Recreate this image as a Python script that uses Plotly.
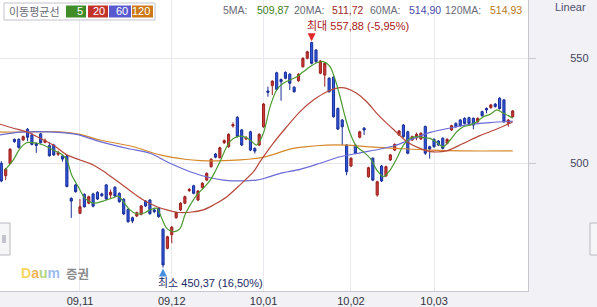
import plotly.graph_objects as go

# ---------------- data ----------------
opens = [500, 494.1, 500, 511.4, 511.4, 511.1, 516.2, 513.5, 509.5, 514,
         510, 508.4, 508.7, 504.3, 503.5, 503.5, 483.3, 489.7, 476.2, 485.2,
         481, 485.4, 486.2, 485.4, 489.7, 484.9, 488.6, 485.7, 482.9, 478,
         474.1, 474.9, 475.7, 482, 482.5, 477.8, 478.6, 468.6, 459.5, 466,
         474.1, 477.8, 481, 487, 489.3, 482.5, 488.4, 492, 498.4, 504.4,
         502.7, 509.8, 507.9, 517.8, 521.9, 515.9, 511.6, 515, 507.1, 508.7,
         517.4, 534.4, 537, 543.1, 539.9, 543.3, 542.4, 536.2, 539.3, 546,
         550, 557.5, 553.9, 542.9, 542, 540.5, 541, 526.1, 520.6, 508.7,
         498.7, 508.7, 512.4, 516.7, 493.6, 502.4, 484.9, 498.7, 494, 501.6,
         506.3, 513.5, 518.2, 515, 511.1, 512.2, 511.6, 517.5, 507.9, 511.4,
         510.6, 511.9, 509.5, 515.9, 519, 520.6, 521.4, 521.7, 521.4, 519.8,
         524.6, 526.1, 526.5, 528.2, 531, 530.2, 519, 522.2]
closes = [491.6, 497.2, 506.7, 510.3, 507.6, 512.7, 512.4, 509, 508.5, 509.8,
          511, 503.6, 504, 505.2, 502, 489, 482, 486.5, 479.3, 479.3,
          484.1, 479.6, 483, 484.6, 483, 486.2, 484.4, 481.7, 475.9, 472.2,
          472.5, 476.5, 479.7, 479.7, 476, 477, 474.6, 451.6, 465, 469.6,
          476.5, 481, 484.1, 487.5, 485.7, 486.8, 490.5, 495.2, 501.9, 502.9,
          507.4, 510.8, 513.8, 518.4, 512.7, 508.7, 512.2, 506.3, 505.8, 513.8,
          528.2, 533.8, 539.1, 535.2, 538.9, 540.5, 538.1, 534.1, 542.4, 550,
          553.1, 547.6, 548.4, 548.7, 547.6, 534.1, 522.2, 516.3, 517.4, 496,
          502.4, 504.8, 515, 515.9, 497.9, 492, 491.2, 491.6, 498.4, 504,
          509, 515.4, 512.7, 504.8, 512.7, 513.8, 514.3, 504.8, 506.8, 507.9,
          508.7, 507.1, 511.4, 517.9, 517.4, 517.9, 519, 519, 518.2, 521.4,
          522.7, 525.4, 527.8, 527, 526.1, 519.8, 520.6, 524.9]
highs = [501, 497.8, 507.2, 511.8, 511.9, 513.2, 516.8, 514.5, 510, 514.6,
         511.8, 510, 509.3, 506, 504, 504, 483.8, 490.2, 483, 485.7,
         484.6, 486, 486.7, 486, 490.2, 487.5, 489.1, 486.2, 483.4, 478.5,
         474.6, 477, 480.2, 482.5, 483, 478.8, 479.1, 469.1, 465.5, 470.1,
         477, 481.5, 484.6, 488.3, 489.8, 487.3, 491, 495.7, 502.4, 504.9,
         507.9, 511.4, 514.3, 519.5, 522.4, 516.4, 513, 515.5, 507.6, 514.3,
         528.7, 536.5, 539.6, 543.6, 540.4, 543.8, 542.9, 536.7, 542.9, 550.5,
         553.6, 557.88, 554.4, 549.2, 548.1, 541, 541.5, 526.6, 521.1, 509.2,
         502.9, 509.2, 515.5, 517.3, 498.4, 502.9, 491.7, 499.2, 498.9, 504.5,
         509.5, 515.9, 518.7, 515.5, 513.2, 514.6, 514.8, 518, 508.4, 511.9,
         511.1, 512.4, 511.9, 518.4, 519.5, 521.1, 521.9, 522.2, 521.9, 521.9,
         525.1, 526.6, 528.3, 528.7, 531.5, 530.7, 521.1, 525.4]
lows = [491, 492, 499.5, 509.8, 507, 510.7, 510.5, 508.5, 505, 509.3,
        509.5, 503.2, 503.5, 503.5, 500.8, 488.5, 474, 486, 475.8, 478.9,
        480.5, 479, 482.5, 484, 482.5, 483.5, 484, 481.2, 475.4, 471.7,
        471.5, 474.4, 475.2, 479.2, 475.5, 476.2, 474.1, 450.37, 459, 461.9,
        473.6, 477.3, 480.5, 486.4, 485.2, 482, 487.9, 491.5, 497.9, 502.4,
        502.2, 509.2, 507.4, 517, 512.2, 508.2, 511, 505.8, 504.6, 508.2,
        516.9, 531.7, 532.5, 534.7, 529.8, 540, 534.9, 533.6, 538.8, 545.5,
        549.5, 547.1, 547.9, 542.4, 536.5, 533.6, 521.7, 515.8, 508.7, 494.3,
        498.2, 504.3, 511.9, 513.5, 493.1, 491.5, 484.1, 491.1, 493.5, 501.1,
        505.8, 513, 512.2, 504.3, 510.6, 511, 511.1, 504, 502.2, 507.4,
        508.2, 506.6, 509, 515.4, 516.9, 517.4, 518.5, 518.5, 516.2, 519.3,
        522.2, 523.8, 526, 526.5, 525.6, 519.3, 517.4, 521.7]
idx = list(range(len(opens)))

# moving averages (candle index, value)
ma5_x = [0.85, 2.75, 4.3, 5.8, 7.3, 9.6, 11.9, 13.8, 15.0, 16.1, 17.6, 19.15, 21.05, 23.3, 25.6, 26.8, 27.9,
         29.45, 30.6, 32.5, 34.0, 35.6, 36.7, 37.85, 39.4, 40.9, 42.0, 43.2, 44.7, 46.2, 47.8, 48.9,
         50.05, 51.2, 52.3, 53.9, 55.4, 56.9, 58.4, 59.95, 61.5, 63.0, 64.5, 66.1, 67.6, 69.1, 70.6,
         72.2, 73.7, 75.2, 76.4, 77.5, 78.65, 79.8, 81.3, 82.8, 84.4, 85.9, 87.4, 88.95, 90.5, 92.0,
         93.5, 95.1, 96.6, 98.1, 99.6, 101.1, 102.7, 104.2, 105.7, 107.25, 108.8, 110.3, 111.8, 113.4,
         114.9, 116.0, 117.0]
ma5_y = [496.8, 501.6, 507.1, 509.8, 509.8, 508.7, 506.3, 504.3, 501.6, 494.4, 488.9, 483.3, 481.0, 482.0, 483.6, 484.4, 481.7,
         477.8, 476.2, 476.2, 477.8, 478.6, 473.8, 469.0, 467.4, 469.0, 475.4, 480.1, 484.9, 488.1, 492.0, 496.0,
         500.8, 506.3, 510.3, 512.7, 512.7, 511.1, 508.7, 514.3, 527.0, 534.9, 538.1, 539.7, 541.2, 543.6, 546.0,
         547.9, 548.4, 546.0, 539.7, 531.7, 522.2, 514.3, 507.9, 505.5, 502.4, 496.8, 493.6, 496.8, 502.4, 508.7,
         511.9, 512.7, 512.2, 511.9, 510.0, 507.9, 511.1, 515.0, 517.4, 518.2, 519.8, 522.2, 523.3, 525.4,
         523.8, 522.7, 521.4]

ma20_x = [-0.3, 2.75, 5.8, 8.9, 11.9, 15.0, 18.0, 21.05, 24.1, 27.2, 30.6, 32.5, 35.6, 37.85, 40.1, 43.2, 46.2,
          48.5, 51.6, 54.6, 57.7, 59.2, 62.2, 65.3, 68.35, 71.4, 74.5, 77.5, 79.0, 81.3, 83.6, 85.9, 88.2,
          90.1, 92.8, 95.8, 98.1, 101.9, 105.7, 109.5, 113.4, 117.0]
ma20_y = [518.6, 516.7, 515.0, 511.9, 508.7, 504.0, 501.6, 499.2, 495.2, 490.5, 485.2, 482.5, 479.3, 477.8, 476.7, 476.7, 477.8,
          480.1, 484.1, 489.7, 496.0, 500.8, 509.5, 517.4, 524.6, 530.1, 534.1, 536.0, 535.7, 533.3, 529.3, 523.8, 519.0,
          515.4, 510.3, 507.1, 505.6, 505.9, 509.5, 513.2, 516.3, 519.7]

ma60_x = [-0.3, 4.3, 11.1, 17.25, 22.6, 29.45, 34.0, 38.6, 43.2, 47.8, 50.8, 54.6, 58.4, 60.3, 63.8, 68.35,
          72.9, 77.5, 82.1, 86.7, 90.1, 93.5, 98.1, 102.7, 107.25, 111.8, 117.0]
ma60_y = [513.5, 514.8, 515.0, 513.8, 510.3, 506.8, 504.8, 500.0, 496.0, 493.1, 492.0, 491.6, 492.0, 492.9, 495.2, 497.1,
          500.0, 503.1, 505.0, 506.8, 508.5, 511.1, 514.7, 516.8, 518.5, 519.4, 520.1]

ma120_x = [-0.3, 4.3, 13.4, 18.0, 22.6, 30.2, 36.3, 42.4, 45.5, 49.3, 54.6, 60.3, 66.8, 74.5, 79.0, 84.4,
           90.5, 98.1, 105.7, 117.0]
ma120_y = [514.8, 514.9, 515.0, 513.8, 511.1, 507.9, 504.0, 501.8, 501.3, 501.2, 501.6, 503.1, 507.1, 508.7, 508.7, 507.8,
           507.1, 506.3, 505.9, 505.9]

month_ticks = [18, 39, 60, 80, 99]
month_labels = ["09,11", "09,12", "10,01", "10,02", "10,03"]

ma_header = [("5MA:", "509,87"), ("20MA:", "511,72"), ("60MA:", "514,90"), ("120MA:", "514,93")]
ma_periods = ["5", "20", "60", "120"]

max_idx, max_val, max_text = 71, 557.88, "최대 557,88 (-5,95%)"
min_idx, min_val, min_text = 37, 450.37, "최소 450,37 (16,50%)"

# ---------------- styles ----------------
W, H = 597, 307
PL, PR, PB = 0, 69, 16
PW, PH = W - PL - PR, H - PB
C_GREEN, C_RED, C_BLUE, C_ORANGE = "#4c9a30", "#b8473c", "#6a6ad6", "#d4882a"
BOX_COLORS = ["#3f8c28", "#c3322a", "#5a5ad0", "#cc7818"]
VAL_COLORS = ["#3f8028", "#a02828", "#4a4aa8", "#b87820"]
FONT = "Liberation Sans, Noto Sans CJK KR, sans-serif"
KFONT = "Noto Sans CJK KR, Liberation Sans, sans-serif"


def px(x):
    return (x - PL) / PW


def py(y):
    return 1 - y / PH


fig = go.Figure()
fig.add_trace(go.Candlestick(
    x=idx, open=opens, high=highs, low=lows, close=closes,
    increasing=dict(line=dict(color="#9a2020", width=1), fillcolor="#cc3b34"),
    decreasing=dict(line=dict(color="#1c2e98", width=1), fillcolor="#2f58e2"),
    whiskerwidth=0, showlegend=False, hoverinfo="skip"))

for xs, ys, col in [(ma120_x, ma120_y, C_ORANGE), (ma60_x, ma60_y, C_BLUE),
                    (ma20_x, ma20_y, C_RED), (ma5_x, ma5_y, C_GREEN)]:
    fig.add_trace(go.Scatter(x=xs, y=ys, mode="lines", line=dict(color=col, width=1.2, shape="spline", smoothing=0.8),
                             showlegend=False, hoverinfo="skip"))

shapes = []
ann = []

# legend box (moving-average selector)
shapes.append(dict(type="rect", xref="paper", yref="paper", x0=px(4), x1=px(155), y0=py(20), y1=py(3),
                   line=dict(color="#c4c4cc", width=1), fillcolor="white", layer="above"))
ann.append(dict(xref="paper", yref="paper", x=px(7), y=py(11.5), xanchor="left", yanchor="middle",
                text="이동평균선", showarrow=False, font=dict(family=KFONT, size=11, color="#6a6a78")))
box_x = [(66, 86), (88, 108), (109, 131), (132, 153)]
for (x0, x1), col, lab in zip(box_x, BOX_COLORS, ma_periods):
    shapes.append(dict(type="rect", xref="paper", yref="paper", x0=px(x0), x1=px(x1), y0=py(17.5), y1=py(5.5),
                       line=dict(width=0), fillcolor=col, layer="above"))
    ann.append(dict(xref="paper", yref="paper", x=px(x1 - 1), y=py(11.5), xanchor="right", yanchor="middle",
                    text=lab, showarrow=False, font=dict(family=FONT, size=11, color="white")))

# header MA values
head_pos = [(221, 255), (292, 330), (368, 407), (443, 488)]
for (lx, vx), (lab, val), vc in zip(head_pos, ma_header, VAL_COLORS):
    ann.append(dict(xref="paper", yref="paper", x=px(lx), y=py(10), xanchor="left", yanchor="middle",
                    text=lab, showarrow=False, font=dict(family=FONT, size=10.5, color="#6a6a7a")))
    ann.append(dict(xref="paper", yref="paper", x=px(vx), y=py(10), xanchor="left", yanchor="middle",
                    text=val, showarrow=False, font=dict(family=FONT, size=10.5, color=vc)))

ann.append(dict(xref="paper", yref="paper", x=px(553), y=py(7), xanchor="left", yanchor="middle",
                text="Linear", showarrow=False, font=dict(family=FONT, size=11, color="#505070")))

# max / min markers
ann.append(dict(x=max_idx, y=max_val, xref="x", yref="y", ax=0, ay=-9, showarrow=True, text="",
                arrowhead=2, arrowsize=0.8, arrowwidth=2, arrowcolor="#e02a2a", standoff=0.5))
ann.append(dict(x=max_idx, y=max_val, xref="x", yref="y", showarrow=False, text=max_text,
                xanchor="left", yanchor="middle", xshift=-7, yshift=16,
                font=dict(family=FONT, size=11, color="#a82020")))
ann.append(dict(x=min_idx, y=min_val, xref="x", yref="y", ax=0, ay=9, showarrow=True, text="",
                arrowhead=2, arrowsize=0.8, arrowwidth=2, arrowcolor="#4a90e2", standoff=1))
ann.append(dict(x=min_idx, y=min_val, xref="x", yref="y", showarrow=False, text=min_text,
                xanchor="left", yanchor="middle", xshift=-7, yshift=-15.5,
                font=dict(family=FONT, size=11, color="#1c2a66")))

# Daum logo
ann.append(dict(xref="paper", yref="paper", x=px(19), y=py(273), xanchor="left", yanchor="middle", showarrow=False,
                text="<b><span style='color:#f7cf4a'>D</span><span style='color:#f2a83c'>a</span>"
                     "<span style='color:#a6d26a'>u</span><span style='color:#8fb0ec'>m</span></b>",
                font=dict(family=FONT, size=14), opacity=0.85))
ann.append(dict(xref="paper", yref="paper", x=px(64), y=py(273), xanchor="left", yanchor="middle", showarrow=False,
                text="<b>증권</b>", font=dict(family=KFONT, size=12.5, color="#8a8a8a")))

# left and right scroll handles
shapes.append(dict(type="rect", xref="paper", yref="paper", x0=px(-1), x1=px(10), y0=py(255), y1=py(223),
                   line=dict(color="#b8b8c0", width=1), fillcolor="#f6f6f8", layer="above"))
for lx in (3, 5):
    shapes.append(dict(type="line", xref="paper", yref="paper", x0=px(lx), x1=px(lx), y0=py(243), y1=py(235),
                       line=dict(color="#9090a0", width=1), layer="above"))
shapes.append(dict(type="rect", xref="paper", yref="paper", x0=px(590), x1=px(599), y0=py(255), y1=py(223),
                   line=dict(color="#b8b8c0", width=1), fillcolor="#f6f6f8", layer="above"))

fig.update_layout(
    width=W, height=H,
    margin=dict(l=PL, r=PR, t=0, b=PB, pad=0),
    paper_bgcolor="#f1f1f6", plot_bgcolor="white",
    shapes=shapes, annotations=ann,
    showlegend=False,
    xaxis=dict(range=[-0.3, 120.5], tickmode="array", tickvals=month_ticks, ticktext=month_labels,
               showgrid=True, gridcolor="#e9e9ef", gridwidth=1, zeroline=False,
               showline=True, linecolor="#c8c8d0", linewidth=1, ticks="",
               tickfont=dict(family=FONT, size=11, color="#333340"),
               rangeslider=dict(visible=False), fixedrange=True),
    yaxis=dict(range=[439.19, 577.76], side="right", tickmode="array", tickvals=[500, 550],
               showgrid=True, gridcolor="#e6e6ec", zeroline=False,
               showline=True, linecolor="#c8c8d0", linewidth=1,
               ticks="outside", ticklen=7, tickcolor="#c8c8d0",
               ticklabelstandoff=32,
               tickfont=dict(family=FONT, size=11, color="#444458"), fixedrange=True),
)

fig.write_html("out.html")
